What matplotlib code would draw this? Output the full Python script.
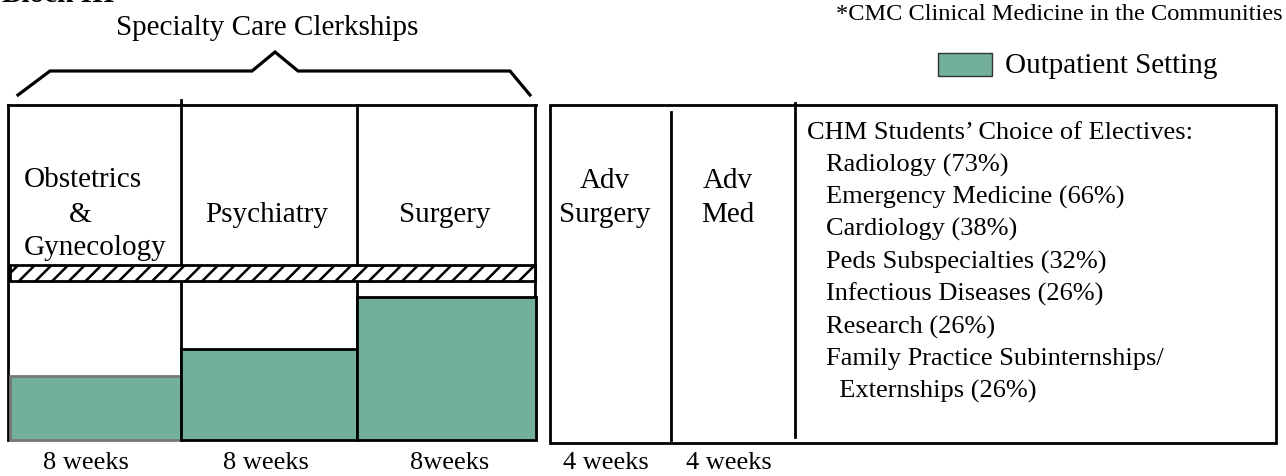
import matplotlib
matplotlib.use('Agg')
import matplotlib.pyplot as plt
from matplotlib.patches import Rectangle

plt.rcParams['font.family'] = ['Liberation Serif', 'DejaVu Serif']
plt.rcParams['hatch.linewidth'] = 1.8

# --- data -------------------------------------------------------------
clerkships = ['Obstetrics\n&\nGynecology', 'Psychiatry', 'Surgery']
clerkship_weeks = ['8 weeks', '8 weeks', '8weeks']
outpatient_share = [0.40, 0.57, 0.90]   # share of the lower band that is outpatient
advanced = ['Adv\nSurgery', 'Adv\nMed']
advanced_weeks = ['4 weeks', '4 weeks']
elective_title = 'CHM Students\u2019 Choice of Electives:'
electives = ['Radiology (73%)', 'Emergency Medicine (66%)', 'Cardiology (38%)',
             'Peds Subspecialties (32%)', 'Infectious Diseases (26%)',
             'Research (26%)', 'Family Practice Subinternships/',
             '  Externships (26%)']

GREEN = '#72B09B'

# --- layout (pixel coords, y down) -------------------------------------
col_edges = [8, 181, 357, 536]
box_top, hatch_top, hatch_bot, box_bot = 105, 265, 281, 440
adv_edges = [550, 671, 795, 1276]
adv_top, adv_bot = 105, 443
label_y = 463

fig = plt.figure(figsize=(12.86, 4.76), dpi=100)
ax = fig.add_axes([0, 0, 1, 1])
ax.set_xlim(0, 1286)
ax.set_ylim(476, 0)
ax.axis('off')

lw = 2.0
fs_big = 21
fs_small = 19

# heading, cut off at the top edge as in the source slide
ax.text(2, 2, 'Block III', fontsize=fs_big, fontweight='bold', va='baseline')

# bracket over the specialty clerkships
bx = [18, 50, 252, 275, 298, 510, 530]
by = [95, 71, 71, 52, 71, 71, 95]
ax.plot(bx, by, color='black', lw=2.3, solid_joinstyle='miter')
ax.text(267, 28, 'Specialty Care Clerkships', fontsize=fs_big, ha='center', va='center')

# note and legend
ax.text(1283, 15, '*CMC Clinical Medicine in the Communities', fontsize=17.6,
        ha='right', va='center')
ax.add_patch(Rectangle((938, 53), 54, 23, facecolor=GREEN, edgecolor='#333333', lw=1.0))
ax.text(1005, 66, 'Outpatient Setting', fontsize=fs_big, ha='left', va='center')

# left block: clerkship frame
ax.plot([col_edges[0], col_edges[-1]], [box_top, box_top], color='black', lw=lw)
ax.plot([col_edges[0], col_edges[0]], [box_top, box_bot], color='black', lw=lw)
ax.plot([col_edges[-1] - 1, col_edges[-1] - 1], [box_top, hatch_bot + 18], color='black', lw=lw)
ax.plot([col_edges[1], col_edges[1]], [100, box_bot], color='black', lw=lw)
ax.plot([col_edges[2], col_edges[2]], [box_top, box_bot], color='black', lw=lw)

ax.add_patch(Rectangle((col_edges[0] + 2, hatch_top), col_edges[-1] - col_edges[0] - 3,
                       hatch_bot - hatch_top, facecolor='white', edgecolor='black',
                       hatch='//', lw=lw, zorder=3))

band = box_bot - hatch_bot
label_x = [86, 266, 450]
for i, (name, share, wk) in enumerate(zip(clerkships, outpatient_share, clerkship_weeks)):
    x0, x1 = col_edges[i], col_edges[i + 1]
    h = share * band
    ec = '#777777' if i == 0 else 'black'
    left = x0 + 2 if i == 0 else x0
    ax.add_patch(Rectangle((left, box_bot - h), x1 - left, h, facecolor=GREEN,
                           edgecolor=ec, lw=lw, zorder=4))
    xc = (x0 + x1) / 2
    if '\n' in name:
        parts = name.split('\n')
        ax.text(24, 180, parts[0], fontsize=fs_big, ha='left', va='center')
        ax.text(80, 215, parts[1], fontsize=fs_big, ha='center', va='center')
        ax.text(24, 248, parts[2], fontsize=fs_big, ha='left', va='center')
    else:
        ax.text(xc - 2, 215, name, fontsize=fs_big, ha='center', va='center')
    ax.text(label_x[i], label_y, wk, fontsize=fs_small, ha='center', va='center')

# right block: advanced rotations + electives
ax.add_patch(Rectangle((adv_edges[0], adv_top), adv_edges[-1] - adv_edges[0],
                       adv_bot - adv_top, facecolor='none', edgecolor='black', lw=lw))
ax.plot([adv_edges[1], adv_edges[1]], [112, 440], color='black', lw=lw)
ax.plot([adv_edges[2], adv_edges[2]], [103, 437], color='black', lw=lw)

adv_x = [605, 728]
for xc, name, wk in zip(adv_x, advanced, advanced_weeks):
    for j, part in enumerate(name.split('\n')):
        ax.text(xc, 181 + 34 * j, part, fontsize=fs_big, ha='center', va='center')
    ax.text(xc + 1, label_y, wk, fontsize=fs_small, ha='center', va='center')

ax.text(807, 133, elective_title, fontsize=fs_small, ha='left', va='center')
for k, item in enumerate(electives):
    ax.text(826, 165 + 32.4 * k, item, fontsize=fs_small, ha='left', va='center')

fig.savefig('out.png', dpi=100)
